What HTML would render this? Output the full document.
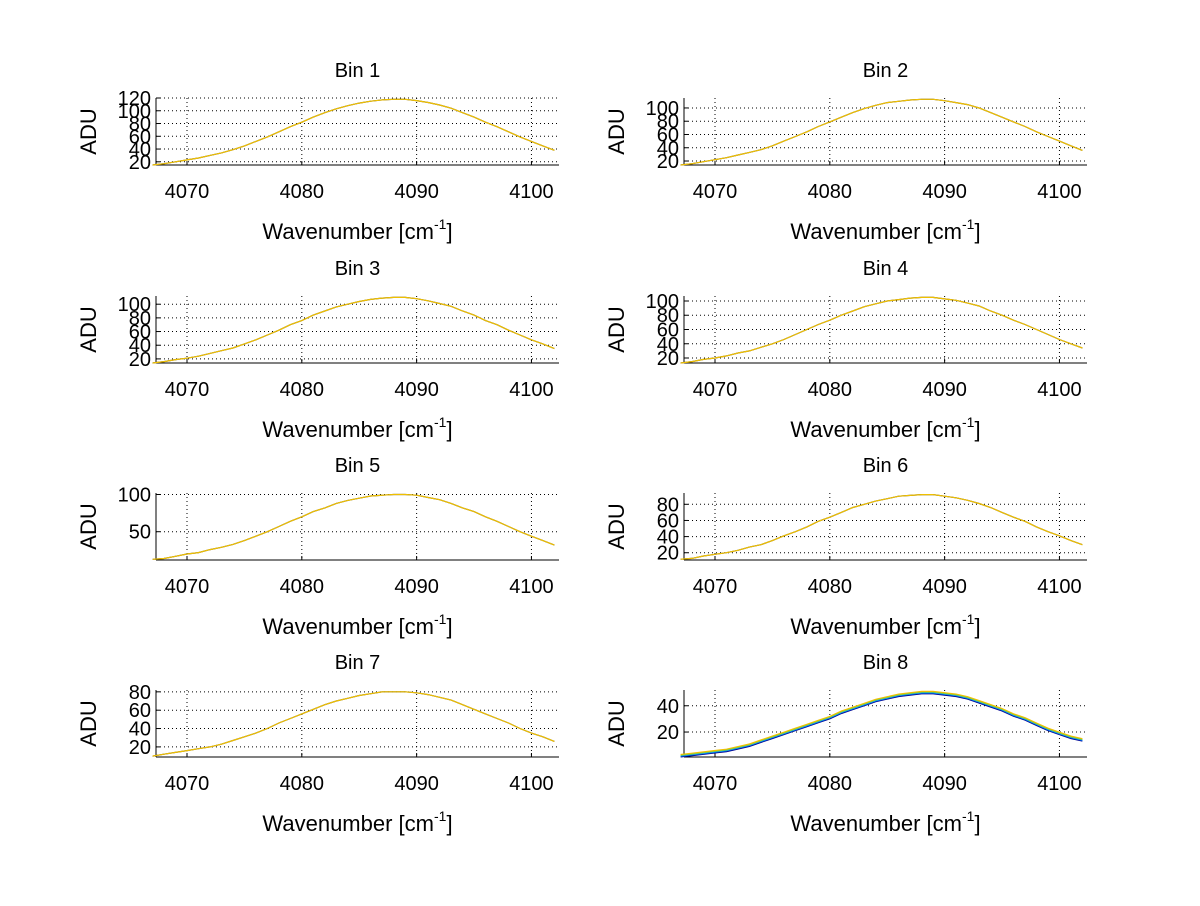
<!DOCTYPE html>
<html><head><meta charset="utf-8"><style>
body{margin:0;background:#fff}
svg text{font-family:"Liberation Sans",sans-serif;fill:#000}
</style></head><body>
<svg id="fig" width="1200" height="901" xmlns="http://www.w3.org/2000/svg"></svg>
<script>
const wavenumbers=[4067,4068,4069,4070,4071,4072,4073,4074,4075,4076,4077,4078,4079,4080,4081,4082,4083,4084,4085,4086,4087,4088,4089,4090,4091,4092,4093,4094,4095,4096,4097,4098,4099,4100,4101,4102];
const xTicks=[4070,4080,4090,4100];
const bin1=[15,17,20,23,26,30,34,39,45,52,59,67,75,82,90,97,103,108,112,115,117,118,118,116,113,109,104,97,90,82,75,67,59,52,45,38];
const bin2=[14,16,19,22,25,29,33,37,43,50,57,64,72,79,86,93,99,104,108,110,112,113,113,111,108,105,100,93,86,79,72,64,57,50,43,36];
const bin3=[14,16,19,21,24,28,32,36,42,48,55,62,70,76,84,90,96,100,104,107,109,110,110,108,105,101,97,90,84,76,70,62,55,48,42,35];
const bin4=[13,15,18,20,23,27,30,35,40,46,53,60,67,73,80,86,92,96,100,102,104,105,105,103,101,97,93,86,80,73,67,60,53,46,40,34];
const bin5=[13,14,17,20,22,26,29,33,38,44,50,57,64,70,77,82,88,92,95,98,99,100,100,99,96,93,88,82,77,70,64,57,50,44,38,32];
const bin6=[12,13,16,18,20,23,27,30,35,41,46,52,59,64,70,76,80,84,87,90,91,92,92,90,88,85,81,76,70,64,59,52,46,41,35,30];
const bin7=[10,12,14,16,18,20,23,27,31,35,40,46,51,56,61,66,70,73,76,78,80,80,80,79,77,74,71,66,61,56,51,46,40,35,31,26];
const bin8=[2,3,4,5,6,8,10,13,16,19,22,25,28,31,35,38,41,44,46,48,49,50,50,49,48,46,43,40,37,33,30,26,22,19,16,14];
const yRanges=[[15,120],[14,115],[14,112],[13,107],[12,102],[11,94],[9,82],[1,52]];
const yTicks=[[20,40,60,80,100,120],[20,40,60,80,100],[20,40,60,80,100],[20,40,60,80,100],[50,100],[20,40,60,80],[20,40,60,80],[20,40]];
const bins=[bin1,bin2,bin3,bin4,bin5,bin6,bin7,bin8];

const NS='http://www.w3.org/2000/svg';
const svg=document.getElementById('fig');
function mk(tag,attrs,parent){const e=document.createElementNS(NS,tag);for(const k in attrs)e.setAttribute(k,attrs[k]);(parent||svg).appendChild(e);return e;}
const xMin=4067.3,xMax=4102.4;
const lefts=[156,684],W=403,H=67,tops=[98,296,493,690];
for(let b=0;b<8;b++){
  const L=lefts[b%2],T=tops[Math.floor(b/2)];
  const g=mk('g',{});
  
  
  const [y0,y1]=yRanges[b];
  const sx=v=>L+(v-xMin)/(xMax-xMin)*W;
  const sy=v=>T+H-(v-y0)/(y1-y0)*H;
  // grid
  xTicks.forEach(t=>{const x=sx(t);
    const gl=mk('line',{x1:x,x2:x,y1:T,y2:T+H,stroke:'#000','stroke-width':1,'stroke-dasharray':'1,3'},g);
    
    mk('line',{x1:x,x2:x,y1:T+H,y2:T+H-4,stroke:'#000'},g);
    const tl=mk('text',{x:x,y:T+H+33,'font-size':20,'text-anchor':'middle'},g);tl.textContent=t;
    
  });
  yTicks[b].forEach(t=>{const y=sy(t);
    const gl=mk('line',{x1:L,x2:L+W,y1:y,y2:y,stroke:'#000','stroke-width':1,'stroke-dasharray':'1,3'},g);
    
    mk('line',{x1:L,x2:L+4,y1:y,y2:y,stroke:'#000'},g);
    const tl=mk('text',{x:L-5,y:y+7,'font-size':20,'text-anchor':'end'},g);tl.textContent=t;
    
  });
  // axes lines (left & bottom)
  mk('line',{x1:L,x2:L,y1:T,y2:T+H,stroke:'#000'},g);
  mk('line',{x1:L,x2:L+W,y1:T+H,y2:T+H,stroke:'#000'},g);
  // series
  const pts=bins[b].map((v,i)=>sx(wavenumbers[i]).toFixed(1)+','+sy(v).toFixed(1)).join(' ');
  const cols=b===7?['#00008f','#0080ff','#60d060','#f0c000']:['#333','#f0c000'];
  cols.forEach((c,ci)=>{
    const off=b===7?(ci-1.5)*0.8:0;
    const pl=mk('polyline',{points:pts,fill:'none',stroke:c,'stroke-width':1.2,transform:'translate(0,'+(-off)+')'},g);
    
  });
  const ti=mk('text',{x:L+W/2,y:T-21,'font-size':20,'text-anchor':'middle'},g);ti.textContent='Bin '+(b+1);
  
  const yl=mk('text',{x:0,y:0,'font-size':22,'text-anchor':'middle',transform:'translate('+(L-60)+','+(T+H/2)+') rotate(-90)'},g);yl.textContent='ADU';
  
  const xl=mk('text',{x:L+W/2,y:T+H+74,'font-size':22,'text-anchor':'middle'},g);
  
  xl.appendChild(document.createTextNode('Wavenumber [cm'));
  const sup=mk('tspan',{'font-size':14,dy:-10},xl);sup.textContent='-1';
  const cl=mk('tspan',{dy:10},xl);cl.textContent=']';
}
</script>
</body></html>
